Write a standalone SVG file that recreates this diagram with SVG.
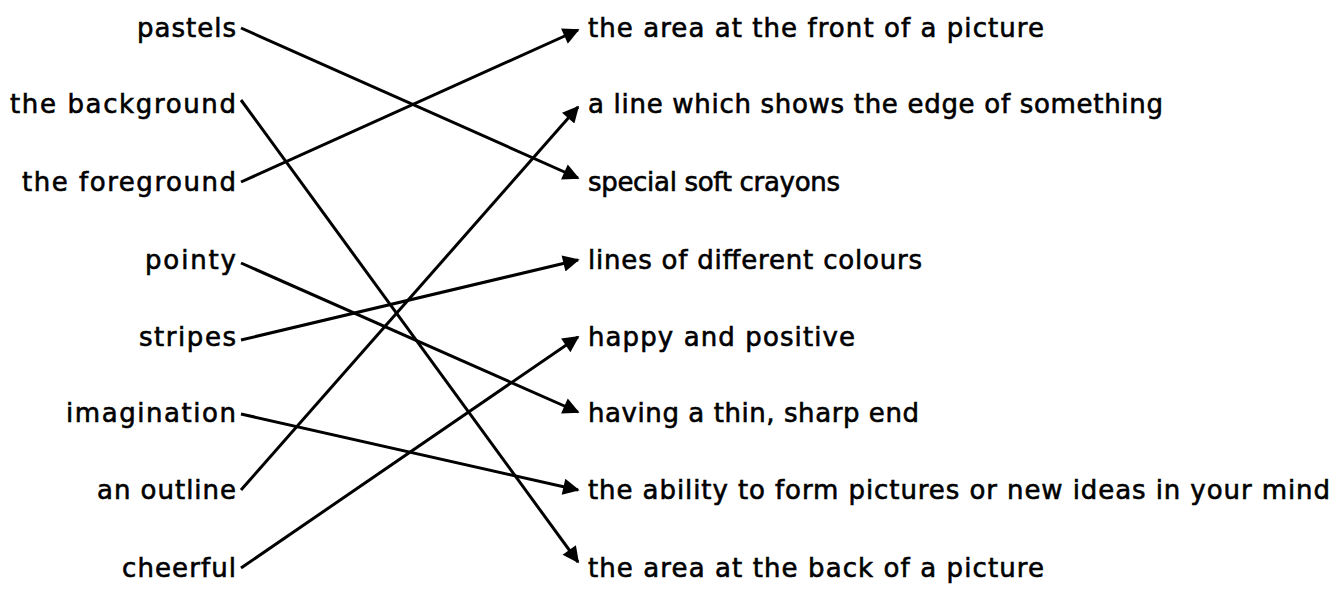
<svg xmlns="http://www.w3.org/2000/svg" width="1341" height="590" viewBox="0 0 1341 590">
<style>
text{font-family:"DejaVu Sans","Open Sans",sans-serif;font-size:26px;font-weight:normal;fill:#000;stroke:#000;stroke-width:0.6}
.l{text-anchor:end}
.c{stroke:#000;stroke-width:3;fill:none;marker-end:url(#ah)}
</style>
<defs>
<marker id="ah" viewBox="0 0 10 10" refX="9" refY="5" markerWidth="6.5" markerHeight="5.5" markerUnits="strokeWidth" orient="auto">
<path d="M0,0 L10,5 L0,10 z" fill="#000"/>
</marker>
</defs>
<rect width="1341" height="590" fill="#fff"/>
<g id="left">
<g id="l0"><text class="l" x="236" y="37" textLength="99" lengthAdjust="spacing">pastels</text></g>
<g id="l1"><text class="l" x="236" y="113" textLength="226" lengthAdjust="spacing">the background</text></g>
<g id="l2"><text class="l" x="236" y="191" textLength="214" lengthAdjust="spacing">the foreground</text></g>
<g id="l3"><text class="l" x="236" y="269" textLength="91" lengthAdjust="spacing">pointy</text></g>
<g id="l4"><text class="l" x="236" y="346" textLength="97" lengthAdjust="spacing">stripes</text></g>
<g id="l5"><text class="l" x="236" y="422" textLength="170" lengthAdjust="spacing">imagination</text></g>
<g id="l6"><text class="l" x="236" y="499" textLength="139" lengthAdjust="spacing">an outline</text></g>
<g id="l7"><text class="l" x="236" y="577" textLength="114" lengthAdjust="spacing">cheerful</text></g>
</g>
<g id="right">
<g id="r0"><text x="588" y="37" textLength="456" lengthAdjust="spacing">the area at the front of a picture</text></g>
<g id="r1"><text x="588" y="113" textLength="575" lengthAdjust="spacing">a line which shows the edge of something</text></g>
<g id="r2"><text x="588" y="191" textLength="252" lengthAdjust="spacing">special soft crayons</text></g>
<g id="r3"><text x="588" y="269" textLength="334" lengthAdjust="spacing">lines of different colours</text></g>
<g id="r4"><text x="588" y="346" textLength="267" lengthAdjust="spacing">happy and positive</text></g>
<g id="r5"><text x="588" y="422" textLength="331" lengthAdjust="spacing">having a thin, sharp end</text></g>
<g id="r6"><text x="588" y="499" textLength="742" lengthAdjust="spacing">the ability to form pictures or new ideas in your mind</text></g>
<g id="r7"><text x="588" y="577" textLength="456" lengthAdjust="spacing">the area at the back of a picture</text></g>
</g>
<g id="connectors">
<line class="c" x1="241" y1="28" x2="578" y2="178"/>
<line class="c" x1="241" y1="100" x2="578" y2="562"/>
<line class="c" x1="241" y1="182" x2="578" y2="30"/>
<line class="c" x1="241" y1="263" x2="578" y2="412"/>
<line class="c" x1="241" y1="340" x2="578" y2="260"/>
<line class="c" x1="241" y1="414" x2="578" y2="490"/>
<line class="c" x1="241" y1="490" x2="578" y2="107"/>
<line class="c" x1="241" y1="568" x2="578" y2="337"/>
</g>
</svg>
